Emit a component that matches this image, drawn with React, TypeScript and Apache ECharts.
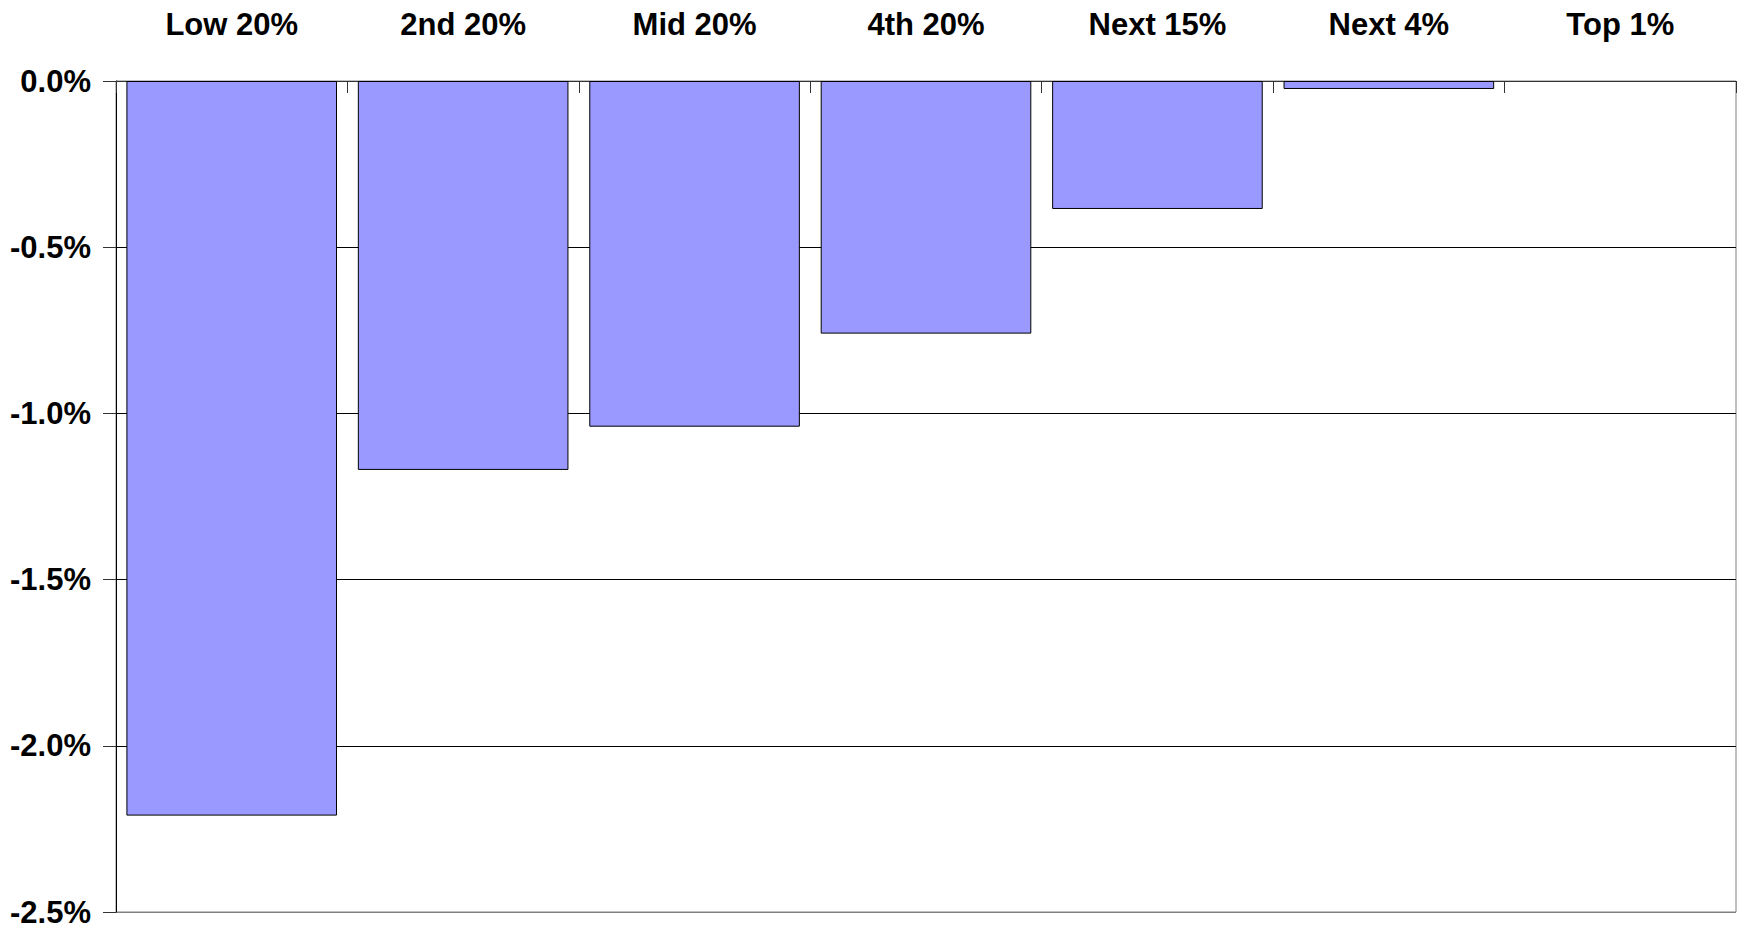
import React, { useEffect, useRef } from "react";
import * as echarts from "echarts";

const categories = ["Low 20%", "2nd 20%", "Mid 20%", "4th 20%", "Next 15%", "Next 4%", "Top 1%"];
const values = [-2.21, -1.17, -1.04, -0.76, -0.385, -0.024, 0];
const yMin = -2.5;
const yMax = 0;
const yStep = 0.5;

const FONT = "'Liberation Sans', Arial, sans-serif";

export default function App() {
  const ref = useRef<HTMLDivElement>(null);
  useEffect(() => {
    document.body.style.margin = "0";
    const chart = echarts.init(ref.current!, null, { renderer: "svg" });
    chart.setOption({
      animation: false,
      backgroundColor: "#ffffff",
      grid: {
        left: 116,
        right: 8,
        top: 81,
        bottom: 22,
        containLabel: false,
        outerBoundsMode: "none",
        show: true,
        borderColor: "#808080",
        borderWidth: 1,
      },
      xAxis: {
        type: "category",
        position: "top",
        data: categories,
        axisLine: { show: true, lineStyle: { color: "#333333", width: 1 } },
        axisTick: { show: true, inside: true, length: 12, lineStyle: { color: "#333333" } },
        axisLabel: {
          fontFamily: FONT,
          fontWeight: "bold",
          fontSize: 31,
          color: "#000",
          margin: 41,
        },
        splitLine: { show: false },
      },
      yAxis: {
        type: "value",
        min: yMin,
        max: yMax,
        interval: yStep,
        axisLine: { show: true, lineStyle: { color: "#000", width: 1 } },
        axisTick: { show: true, length: 13, lineStyle: { color: "#333333" } },
        axisLabel: {
          fontFamily: FONT,
          fontWeight: "bold",
          fontSize: 31,
          color: "#000",
          margin: 25,
          padding: [5, 0, 0, 0],
          formatter: (v: number) => v.toFixed(1) + "%",
        },
        splitLine: {
          show: true,
          lineStyle: { color: ["#808080", "#000", "#000", "#000", "#000", "#333333"], width: 1 },
        },
      },
      series: [
        {
          type: "bar",
          data: values.map((v) => (v === 0 ? { value: v, itemStyle: { borderWidth: 0 } } : v)),
          barCategoryGap: "9%",
          itemStyle: { color: "#9999FF", borderColor: "#000", borderWidth: 1 },
        },
      ],
    });
    return () => chart.dispose();
  }, []);
  return <div ref={ref} style={{ width: 1744, height: 934 }} />;
}
